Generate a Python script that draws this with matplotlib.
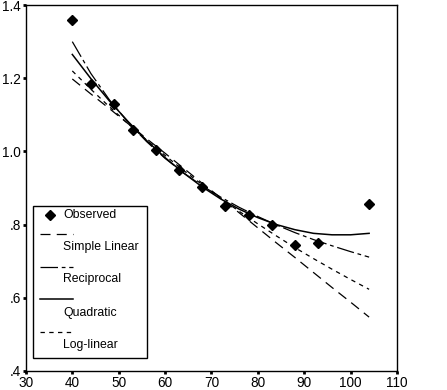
import numpy as np
import matplotlib
matplotlib.use('Agg')
import matplotlib.pyplot as plt
from matplotlib.lines import Line2D

plt.rcParams['font.family'] = ['Liberation Sans', 'DejaVu Sans']

# observed points
obs_x = [40, 44, 49, 53, 58, 63, 68, 73, 78, 83, 88, 93, 104]
obs_y = [1.359, 1.185, 1.130, 1.059, 1.005, 0.950, 0.904, 0.852, 0.825, 0.798, 0.743, 0.749, 0.855]

# fitted curves
fit_x = [40, 44, 48, 52, 56, 60, 64, 68, 72, 76, 80, 84, 88, 92, 96, 100, 104]
linear_y = [1.198, 1.157, 1.117, 1.076, 1.035, 0.995, 0.954, 0.913, 0.873, 0.832, 0.791, 0.750,
            0.710, 0.669, 0.628, 0.588, 0.547]
recip_y = [1.300, 1.213, 1.141, 1.080, 1.027, 0.981, 0.941, 0.906, 0.875, 0.847, 0.822, 0.799,
           0.778, 0.759, 0.742, 0.726, 0.711]
quad_y = [1.265, 1.199, 1.138, 1.082, 1.030, 0.983, 0.941, 0.903, 0.870, 0.842, 0.819, 0.800,
          0.786, 0.776, 0.772, 0.772, 0.776]
loglin_y = [1.220, 1.170, 1.122, 1.076, 1.031, 0.989, 0.948, 0.909, 0.872, 0.836, 0.802, 0.769,
            0.737, 0.707, 0.678, 0.650, 0.623]

xticks = [30, 40, 50, 60, 70, 80, 90, 100, 110]
yticks = [0.4, 0.6, 0.8, 1.0, 1.2, 1.4]
ytick_labels = ['.4', '.6', '.8', '1.0', '1.2', '1.4']

styles = {
    'Simple Linear': dict(ls=(0, (8, 5)), lw=0.9),
    'Reciprocal': dict(ls=(0, (14, 3, 3, 3)), lw=0.9),
    'Quadratic': dict(ls='-', lw=1.1),
    'Log-linear': dict(ls=(0, (3.5, 3.5)), lw=0.9),
}

fig = plt.figure(figsize=(4.47, 3.90), dpi=100)
ax = fig.add_axes([0.058, 0.049, 0.830, 0.938])

ax.plot(obs_x, obs_y, 'D', color='black', ms=5.5, zorder=5)
ax.plot(fit_x, linear_y, color='black', **styles['Simple Linear'])
ax.plot(fit_x, recip_y, color='black', **styles['Reciprocal'])
ax.plot(fit_x, quad_y, color='black', **styles['Quadratic'])
ax.plot(fit_x, loglin_y, color='black', **styles['Log-linear'])

ax.set_xlim(30, 110)
ax.set_ylim(0.4, 1.4)
ax.set_xticks(xticks)
ax.set_yticks(yticks)
ax.set_yticklabels(ytick_labels)
ax.tick_params(direction='out', length=2.5, width=2, labelsize=9.8, pad=1)
for s in ax.spines.values():
    s.set_linewidth(1.0)

# hand-made legend, SPSS style (sample line above its label)
tr = ax.transAxes
box = plt.Rectangle((0.019, 0.035), 0.307, 0.417, transform=tr, fill=False,
                    lw=1.0, ec='black', zorder=6)
ax.add_patch(box)
ax.add_line(Line2D([0.065], [0.427], transform=tr, marker='D', color='black',
                   ms=5, ls='none', zorder=7))
ax.text(0.100, 0.427, 'Observed', transform=tr, fontsize=8.8, va='center', zorder=7)
names = ['Simple Linear', 'Reciprocal', 'Quadratic', 'Log-linear']
line_y = [0.373, 0.283, 0.196, 0.106]
text_y = [0.340, 0.250, 0.158, 0.071]
for name, ly, ty in zip(names, line_y, text_y):
    ax.add_line(Line2D([0.038, 0.127], [ly, ly], transform=tr, color='black',
                       zorder=7, **styles[name]))
    ax.text(0.100, ty, name, transform=tr, fontsize=8.8, va='center', zorder=7)

fig.savefig('out.png', dpi=100)
